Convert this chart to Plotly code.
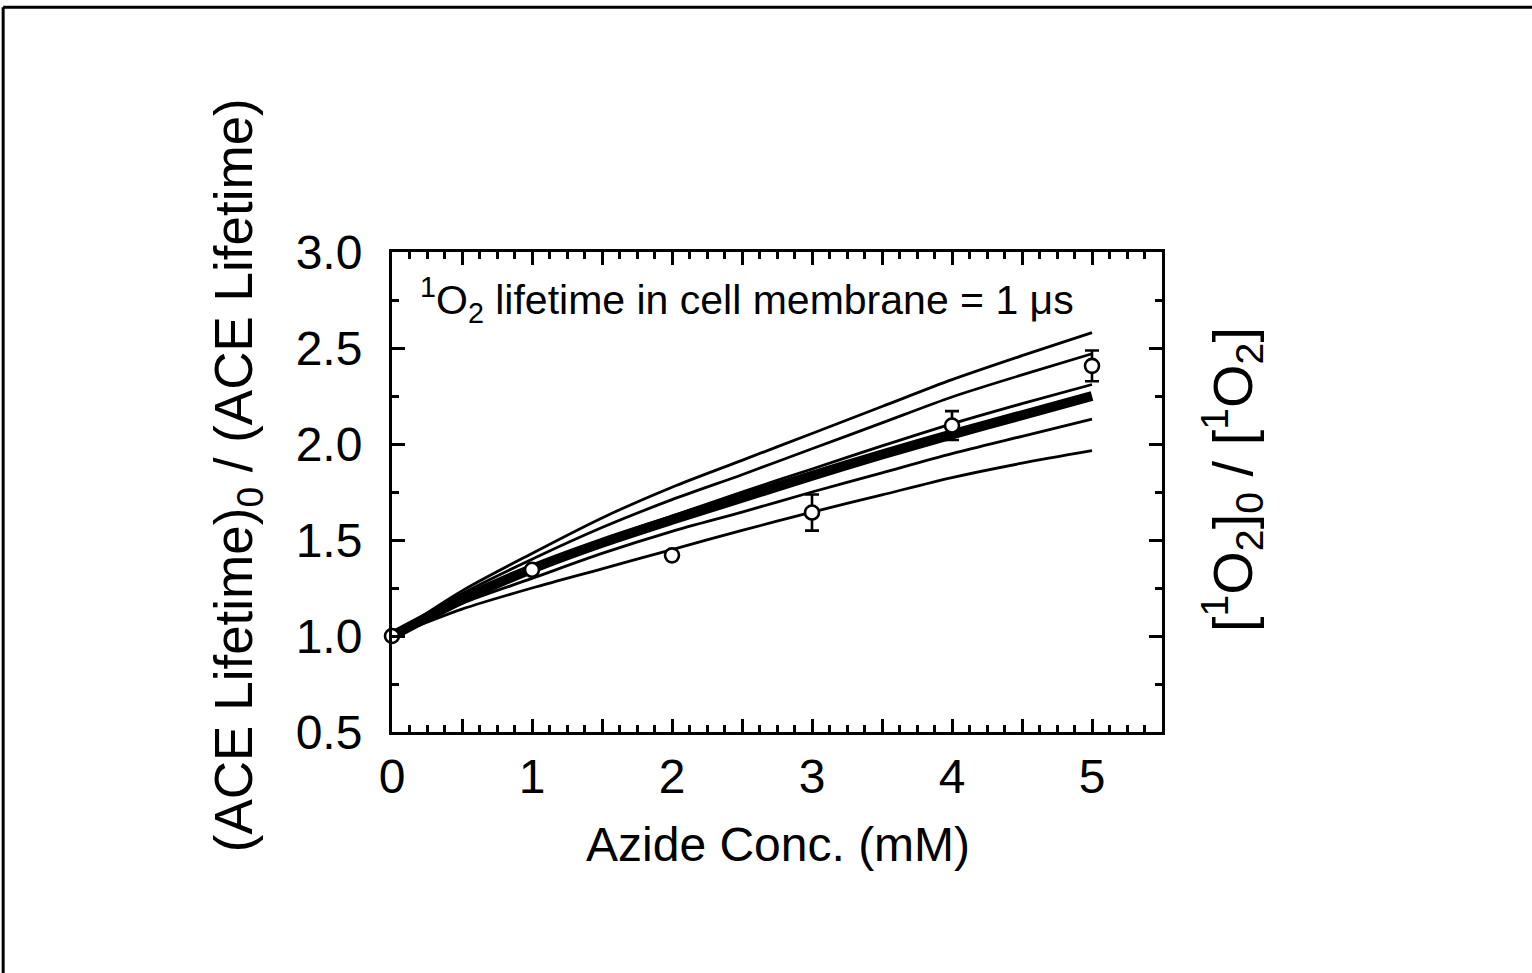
import plotly.graph_objects as go

# ---- data ----
x_curve = [0, 0.5, 1, 1.5, 2, 2.5, 3, 3.5, 4, 4.5, 5]
curve_top = [1.00, 1.235, 1.43, 1.615, 1.775, 1.915, 2.055, 2.195, 2.335, 2.46, 2.58]
curve_second = [1.00, 1.22, 1.40, 1.565, 1.71, 1.84, 1.975, 2.11, 2.245, 2.36, 2.47]
curve_third = [1.00, 1.20, 1.365, 1.50, 1.625, 1.75, 1.87, 1.99, 2.105, 2.21, 2.31]
curve_thick = [1.00, 1.19, 1.35, 1.485, 1.605, 1.72, 1.835, 1.945, 2.05, 2.15, 2.25]
curve_fourth = [1.00, 1.17, 1.30, 1.43, 1.545, 1.645, 1.75, 1.85, 1.95, 2.04, 2.13]
curve_bottom = [1.00, 1.14, 1.25, 1.35, 1.45, 1.55, 1.645, 1.735, 1.825, 1.90, 1.965]

azide_conc = [0, 1, 2, 3, 4, 5]
lifetime_ratio = [1.00, 1.345, 1.42, 1.643, 2.096, 2.407]
lifetime_err = [0, 0, 0, 0.094, 0.075, 0.08]

x_tick_vals = [0, 1, 2, 3, 4, 5]
x_tick_labels = ["0", "1", "2", "3", "4", "5"]
x_half_tick_vals = [0.5, 1.5, 2.5, 3.5, 4.5]
y_tick_vals = [0.5, 1.0, 1.5, 2.0, 2.5, 3.0]
y_tick_labels = ["0.5", "1.0", "1.5", "2.0", "2.5", "3.0"]

FONT = "Liberation Sans, Arial, sans-serif"
X_RANGE = [0, 5.5]
Y_RANGE = [0.5, 3.0]

fig = go.Figure()

thin_curves = [curve_top, curve_second, curve_third, curve_fourth, curve_bottom]
for c in thin_curves:
    fig.add_trace(go.Scatter(x=x_curve, y=c, mode="lines",
                             line=dict(color="black", width=2.8, shape="spline", smoothing=0.8),
                             showlegend=False, hoverinfo="skip"))
fig.add_trace(go.Scatter(x=x_curve, y=curve_thick, mode="lines",
                         line=dict(color="black", width=10, shape="spline", smoothing=0.8),
                         showlegend=False, hoverinfo="skip"))

fig.add_trace(go.Scatter(x=azide_conc, y=lifetime_ratio, mode="markers",
                         marker=dict(symbol="circle", size=14, color="white",
                                     line=dict(color="black", width=2.6)),
                         error_y=dict(type="data", array=lifetime_err, visible=True,
                                      color="black", thickness=2.6, width=7),
                         cliponaxis=False, showlegend=False))

# invisible trace so the half-unit tick axis is drawn
fig.add_trace(go.Scatter(x=X_RANGE, y=Y_RANGE, xaxis="x2", mode="markers",
                         marker=dict(opacity=0), showlegend=False, hoverinfo="skip"))

axis_common = dict(showgrid=False, zeroline=False, showline=True, linecolor="black",
                   linewidth=3, mirror="ticks", ticks="inside", tickwidth=2.5,
                   ticklen=13, tickcolor="black",
                   tickfont=dict(family=FONT, size=48, color="black"))

fig.update_layout(
    xaxis=dict(range=X_RANGE, tickmode="array", tickvals=x_tick_vals,
               ticktext=x_tick_labels, ticklabelstandoff=0,
               minor=dict(dtick=0.125, tick0=0, ticks="inside", ticklen=7,
                          tickwidth=2.5, tickcolor="black", showgrid=False),
               **axis_common),
    xaxis2=dict(range=X_RANGE, overlaying="x", anchor="y", side="bottom",
                tickmode="array", tickvals=x_half_tick_vals, showticklabels=False,
                ticks="inside", ticklen=13, tickwidth=2.5, tickcolor="black",
                showline=False, mirror="allticks", showgrid=False, zeroline=False),
    yaxis=dict(range=Y_RANGE, tickmode="array", tickvals=y_tick_vals,
               ticktext=y_tick_labels, ticklabelstandoff=17,
               minor=dict(dtick=0.25, tick0=0.5, ticks="inside", ticklen=7,
                          tickwidth=2.5, tickcolor="black", showgrid=False),
               **axis_common),
)

annotations = [
    dict(text="<sup>1</sup>O<sub>2</sub> lifetime in cell membrane = 1 μs",
         x=0.034, y=0.90, xref="paper", yref="paper", xanchor="left", yanchor="middle",
         showarrow=False, font=dict(family=FONT, size=41, color="black")),
    dict(text="Azide Conc. (mM)", x=0.501, y=-0.235, xref="paper", yref="paper",
         xanchor="center", yanchor="middle", showarrow=False,
         font=dict(family=FONT, size=48, color="black")),
    dict(text="(ACE Lifetime)<sub>0</sub> / (ACE Lifetime)", x=-0.2013, y=0.535,
         xref="paper", yref="paper", xanchor="center", yanchor="middle",
         textangle=-90, showarrow=False, font=dict(family=FONT, size=53, color="black")),
    dict(text="[<sup>1</sup>O<sub>2</sub>]<sub>0</sub> / [<sup>1</sup>O<sub>2</sub>]",
         x=1.091, y=0.525, xref="paper", yref="paper", xanchor="center", yanchor="middle",
         textangle=-90, showarrow=False, font=dict(family=FONT, size=56, color="black")),
]

shapes = [
    dict(type="line", xref="paper", yref="paper", x0=-0.505, x1=1.50, y0=1.51, y1=1.51,
         line=dict(color="black", width=3)),
    dict(type="line", xref="paper", yref="paper", x0=-0.505, x1=-0.505, y0=-0.52, y1=1.51,
         line=dict(color="black", width=3)),
]

fig.update_layout(width=1532, height=973, autosize=False,
                  margin=dict(l=392, r=370, t=252, b=241, pad=0),
                  plot_bgcolor="white", paper_bgcolor="white",
                  annotations=annotations, shapes=shapes,
                  font=dict(family=FONT, color="black"))

fig.write_html("out.html")
